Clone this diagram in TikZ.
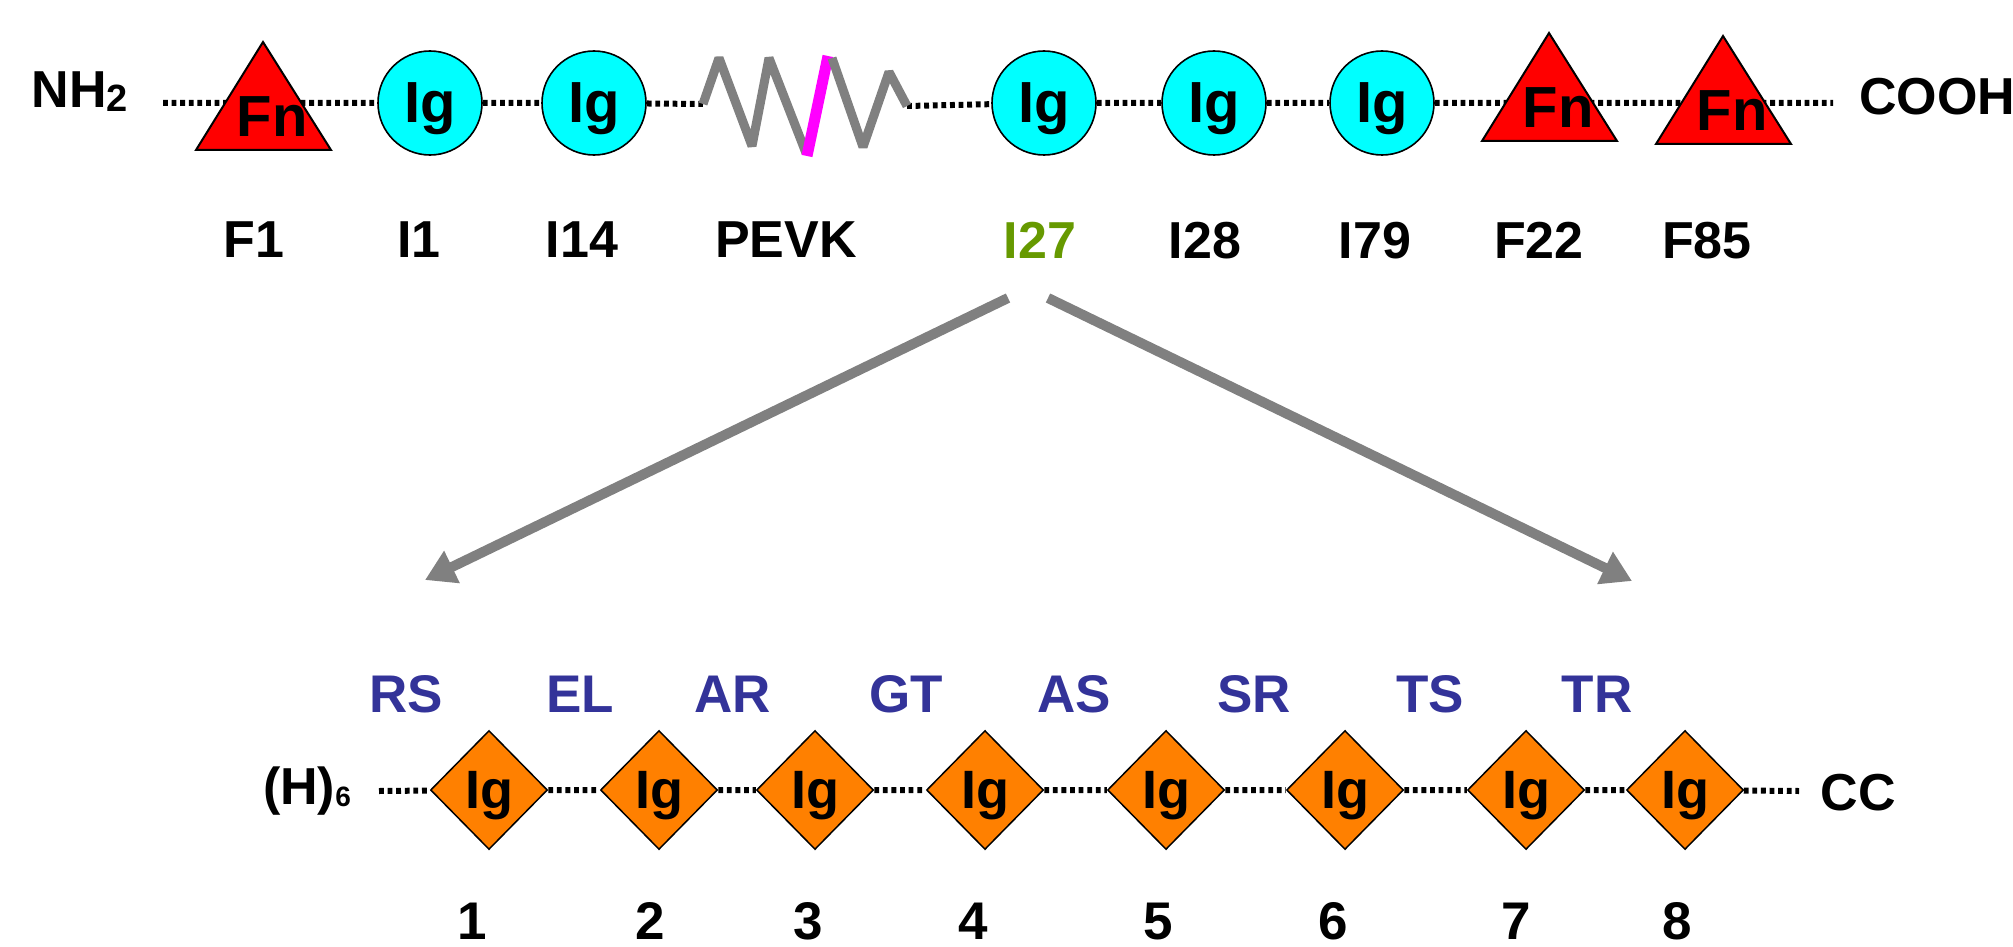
\documentclass[tikz,border=0pt]{standalone}
\usepackage{fontspec}
\setmainfont{Liberation Sans}
\usetikzlibrary{shapes.geometric,arrows.meta,backgrounds}

\definecolor{igcyan}{RGB}{0,255,255}
\definecolor{cutpink}{RGB}{255,0,255}
\definecolor{domorange}{RGB}{255,128,0}
\definecolor{linkblue}{RGB}{51,51,153}
\definecolor{pickgreen}{RGB}{102,153,0}

\begin{document}
\begin{tikzpicture}[x=0.5pt, y=-0.5pt,
  every node/.style={font=\bfseries, text depth=0pt, inner sep=0pt},
  term/.style={font=\bfseries\fontsize{26}{26}\selectfont},
  lab/.style={font=\bfseries\fontsize{26}{26}\selectfont},
  igc/.style={circle, draw, line width=0.8pt, fill=igcyan, minimum size=52pt,
    font=\bfseries\fontsize{29}{29}\selectfont},
  igd/.style={diamond, draw, line width=0.75pt, fill=domorange,
    minimum width=58.5pt, minimum height=59.5pt, font=\bfseries\fontsize{27}{27}\selectfont},
  fnface/.style={draw, line width=1pt, fill=red},
  fntext/.style={font=\bfseries\fontsize{29}{29}\selectfont},
  linker/.style={text=linkblue, font=\bfseries\fontsize{26.5}{27}\selectfont},
  domnum/.style={font=\bfseries\fontsize{26.5}{27}\selectfont},
  linkline/.style={line width=3pt, dash pattern=on 2.4pt off 1.9pt},
  pevk/.style={gray, line width=4.5pt, line join=bevel},
  pevkcut/.style={cutpink, line width=5.5pt},
  zoomarrow/.style={gray, line width=5pt, -{Triangle[length=15pt,width=17pt]}},
]
  \useasboundingbox (0,0) rectangle (2013,947);

  % titin, top row
  \node[term] (nh2) at (80,90) {NH\raisebox{-2pt}{\fontsize{19}{19}\selectfont 2}};
  \node[term] (cooh) at (1937,96) {COOH};
  \foreach \name/\x in {i1/430, i14/594, i27/1044, i28/1214, i79/1382}
    \node[igc] (\name) at (\x,103) {Ig};
  \foreach \name/\x/\y in {f1/263/42, f22/1549/33, f85/1723/36} {
    \draw[fnface] (\x,\y) -- ++(-67,108) -- ++(135,0) -- cycle;
    \node[fntext] (\name) at (\x+9,\y+75) {Fn};
  }

  % PEVK spring
  \coordinate (pevk-in) at (703,104);
  \coordinate (pevk-out) at (907,106);
  \draw[pevk] (pevk-in) -- (719,58) -- (752,146) -- (769,58) -- (806,153);
  \draw[pevkcut] (807,156) -- (828,56);
  \draw[pevk] (832,58) -- (863,147) -- (889,72) -- (pevk-out);

  % backbone
  \coordinate (top-l) at (163,103);
  \coordinate (top-r) at (1833,103);
  \begin{scope}[on background layer]
    \draw[linkline] (top-l) -- (f1 |- top-l) -- (i1) -- (i14) -- (pevk-in);
    \draw[linkline] (pevk-out) -- (i27) -- (i28) -- (i79) -- (f22 |- top-r) -- (f85 |- top-r) -- (top-r);
  \end{scope}

  \foreach \t/\x in {F1/254, I1/419, I14/582, PEVK/786, I28/1205, I79/1375, F22/1539, F85/1707}
    \node[lab] (lab-\t) at (\x,240) {\t};
  \node[lab, text=pickgreen] (lab-I27) at (1040,240) {I27};

  % zoom into I27
  \coordinate (zl-from) at (1008,298);
  \coordinate (zl-to) at (425,580);
  \coordinate (zr-from) at (1048,298);
  \coordinate (zr-to) at (1632,581);
  \draw[zoomarrow] (zl-from) -- (zl-to);
  \draw[zoomarrow] (zr-from) -- (zr-to);

  % polyprotein, bottom row
  \node[term] (his) at (307,786) {(H)\raisebox{-1pt}{\fontsize{14}{14}\selectfont 6}};
  \node[term] (cc) at (1858,792) {CC};
  \foreach \x [count=\i] in {489,659,815,985,1166,1345,1526,1685}
    \node[igd] (d\i) at (\x,790) {Ig};
  \foreach \x [count=\i] in {472,650,808,973,1158,1333,1516,1677}
    \node[domnum] (n\i) at (\x,921) {\i};
  \foreach \t/\x in {RS/406, EL/580, AR/733, GT/906, AS/1074, SR/1254, TS/1430, TR/1597}
    \node[linker] (lk-\t) at (\x,694) {\t};

  \coordinate (bot-l) at (379,791);
  \coordinate (bot-r) at (1799,791);
  \draw[linkline] (bot-l) -- (d1) -- (d2) -- (d3) -- (d4) -- (d5) -- (d6) -- (d7) -- (d8) -- (bot-r);
\end{tikzpicture}
\end{document}
